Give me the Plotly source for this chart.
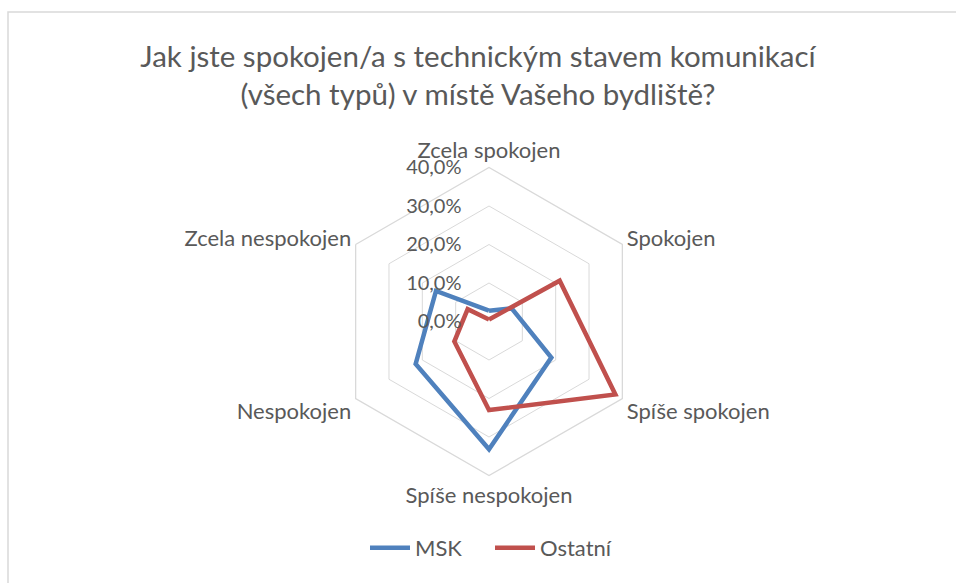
import plotly.graph_objects as go

categories = ["Zcela spokojen", "Spokojen", "Spíše spokojen", "Spíše nespokojen", "Nespokojen", "Zcela nespokojen"]
msk = [2.8, 6.8, 18.7, 33.2, 22.0, 15.9]
ostatni = [0.5, 21.2, 37.9, 23.0, 10.4, 6.4]
tick_vals = [0, 10, 20, 30, 40]
tick_text = ["0,0%", "10,0%", "20,0%", "30,0%", "40,0%"]

FONT = "Lato"
GRAY = "#595959"

fig = go.Figure()
for name, vals, col in [("MSK", msk, "#4F81BD"), ("Ostatní", ostatni, "#C0504D")]:
    fig.add_trace(go.Scatterpolar(
        r=vals + [vals[0]], theta=categories + [categories[0]],
        mode="lines", name=name,
        line=dict(color=col, width=4.5),
    ))

W, H = 956, 583
cx, cy, R = 489, 321.5, 154
fig.update_layout(
    width=W, height=H,
    margin=dict(l=0, r=0, t=0, b=0),
    paper_bgcolor="white",
    font=dict(family=FONT, color=GRAY, size=22),
    title=dict(
        text="Jak jste spokojen/a s technickým stavem komunikací<br>(všech typů) v místě Vašeho bydliště?",
        x=0.5, xanchor="center", y=1 - 67 / H, yanchor="top",
        font=dict(family=FONT, size=29.5, color=GRAY),
    ),
    polar=dict(
        domain=dict(x=[(cx - R) / W, (cx + R) / W], y=[(H - cy - R) / H, (H - cy + R) / H]),
        gridshape="linear",
        bgcolor="white",
        radialaxis=dict(
            range=[0, 40], tickvals=tick_vals, ticktext=tick_text,
            angle=90, tickangle=90, side="counterclockwise",
            showline=False, gridcolor="#D9D9D9", gridwidth=1.3,
            ticks="outside", ticklen=20, tickcolor="rgba(0,0,0,0)",
            tickfont=dict(size=20, color=GRAY),
        ),
        angularaxis=dict(
            direction="clockwise", rotation=90,
            showgrid=False, showline=True, linecolor="#D9D9D9", linewidth=1.3,
            ticks="", tickfont=dict(size=22, color=GRAY),
        ),
    ),
    legend=dict(
        orientation="h", x=0.5 + 12 / W, xanchor="center", y=1 - 548 / H, yanchor="middle",
        font=dict(size=22, color=GRAY), itemwidth=40, entrywidth=70,
    ),
    shapes=[dict(type="rect", xref="paper", yref="paper", x0=8 / W, x1=1.01, y0=-0.01, y1=1 - 12 / H,
                 line=dict(color="#D9D9D9", width=1.5))],
)

fig.write_html("out.html", config={"displayModeBar": False},
               post_script="document.body.style.margin='0px';")
